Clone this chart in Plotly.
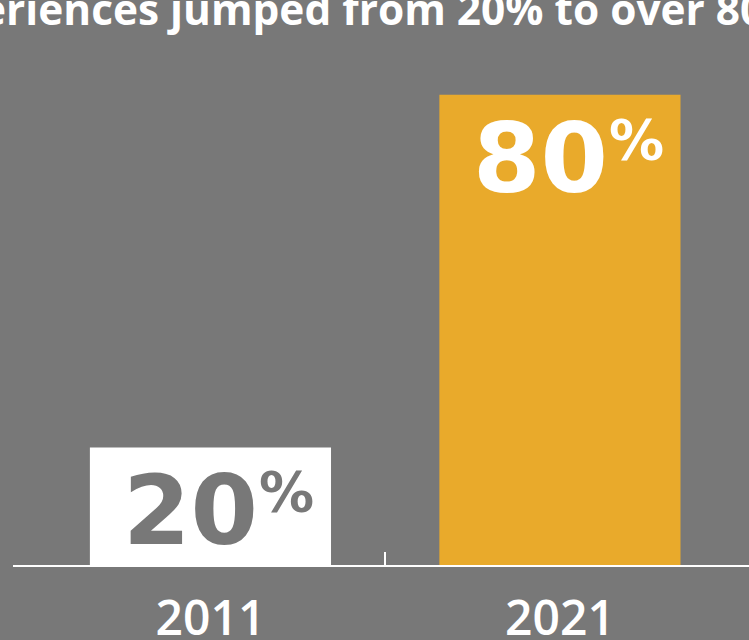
import plotly.graph_objects as go

# ---- data ----
years = ["2011", "2021"]
values = [20, 80]
bar_colors = ["#FFFFFF", "#E9AA2B"]
value_label_colors = ["#787878", "#FFFFFF"]
title_text = "Positive customer experiences jumped from 20% to over 80%"

BG = "#787878"
pos = list(range(len(years)))

fig = go.Figure(
    go.Bar(
        x=pos,
        y=values,
        width=0.69,
        marker=dict(color=bar_colors, line=dict(width=0)),
        hoverinfo="skip",
    )
)

for i, v in enumerate(values):
    fig.add_annotation(
        x=pos[i], y=v, xref="x", yref="y",
        text=f"{v}", showarrow=False,
        xanchor="right", yanchor="top", xshift=50, yshift=-5,
        font=dict(family="DejaVu Sans", size=97, color=value_label_colors[i], weight="bold"),
    )
    fig.add_annotation(
        x=pos[i], y=v, xref="x", yref="y",
        text="%", showarrow=False,
        xanchor="left", yanchor="top", xshift=47, yshift=-11,
        font=dict(family="DejaVu Sans", size=55, color=value_label_colors[i], weight="bold"),
    )

fig.add_annotation(
    text=title_text, xref="paper", yref="paper", x=1, y=1,
    xanchor="right", yanchor="bottom", xshift=55, yshift=-3,
    showarrow=False,
    font=dict(family="Open Sans", size=42.4, color="white", weight="bold"),
)

fig.update_layout(
    width=749, height=640,
    margin=dict(l=13, r=0, t=36, b=75, autoexpand=False),
    paper_bgcolor=BG, plot_bgcolor=BG,
    showlegend=False,
    xaxis=dict(
        range=[-0.565, 1.541], automargin=False,
        tickmode="array", tickvals=pos, ticktext=years,
        ticks="", showgrid=False, zeroline=False,
        showline=True, linecolor="white", linewidth=2,
        ticklabelstandoff=10,
        tickfont=dict(family="Open Sans", size=48, color="white", weight=600),
        minor=dict(tickmode="array", tickvals=[0.5], ticks="inside", ticklen=13,
                   tickwidth=2, tickcolor="white", showgrid=False),
    ),
    yaxis=dict(range=[0, 90], visible=False, fixedrange=True, automargin=False),
)

fig.write_html(
    "out.html",
    config={"displayModeBar": False},
    post_script="document.body.style.margin='0';document.body.style.overflow='hidden';",
)
